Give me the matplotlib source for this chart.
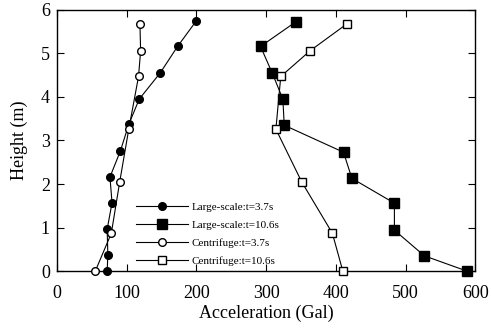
import matplotlib.pyplot as plt

plt.rcParams['font.family'] = ['Liberation Serif', 'DejaVu Serif']

# heights (m) and accelerations (Gal)
h_ls_37 = [5.75, 5.16, 4.55, 3.95, 3.37, 2.76, 2.16, 1.57, 0.96, 0.37, 0.0]
a_ls_37 = [200, 173, 148, 118, 103, 91, 76, 79, 72, 73, 72]

h_ls_106 = [5.73, 5.16, 4.54, 3.95, 3.35, 2.73, 2.13, 1.56, 0.94, 0.35, 0.0]
a_ls_106 = [343, 292, 309, 324, 326, 411, 423, 484, 484, 527, 588]

h_cf_37 = [5.68, 5.06, 4.47, 3.26, 2.05, 0.87, 0.0]
a_cf_37 = [119, 120, 117, 103, 90, 78, 55]

h_cf_106 = [5.68, 5.06, 4.47, 3.26, 2.05, 0.87, 0.0]
a_cf_106 = [416, 363, 321, 314, 351, 395, 410]

fig = plt.figure(figsize=(4.91, 3.29), dpi=100)
ax = fig.add_axes([0.116, 0.176, 0.852, 0.794])

ax.plot(a_ls_37, h_ls_37, '-o', color='black', mfc='black', ms=5.5, lw=0.8,
        label='Large-scale:t=3.7s', clip_on=False, zorder=3)
ax.plot(a_ls_106, h_ls_106, '-s', color='black', mfc='black', ms=7, lw=0.8,
        label='Large-scale:t=10.6s', clip_on=False, zorder=3)
ax.plot(a_cf_37, h_cf_37, '-o', color='black', mfc='white', ms=5.5, lw=0.8,
        label='Centrifuge:t=3.7s', clip_on=False, zorder=4)
ax.plot(a_cf_106, h_cf_106, '-s', color='black', mfc='white', ms=5.5, lw=0.8,
        label='Centrifuge:t=10.6s', clip_on=False, zorder=4)

ax.set_xlim(0, 600)
ax.set_ylim(0, 6)
ax.set_xticks(range(0, 601, 100))
ax.set_yticks(range(0, 7))
ax.tick_params(direction='in', top=True, right=True, length=5, width=0.8,
               labelsize=13)
ax.tick_params(axis='x', pad=10)
ax.tick_params(axis='y', pad=5)
for s in ax.spines.values():
    s.set_linewidth(1.0)
ax.set_xlabel('Acceleration (Gal)', fontsize=13, labelpad=2)
ax.set_ylabel('Height (m)', fontsize=13, labelpad=9)

ax.legend(loc='lower left', bbox_to_anchor=(0.19, 0.02), frameon=False,
          fontsize=8, handlelength=4.6, handletextpad=0.4, labelspacing=0.75,
          borderpad=0, borderaxespad=0)

fig.savefig('out.png', dpi=100)
